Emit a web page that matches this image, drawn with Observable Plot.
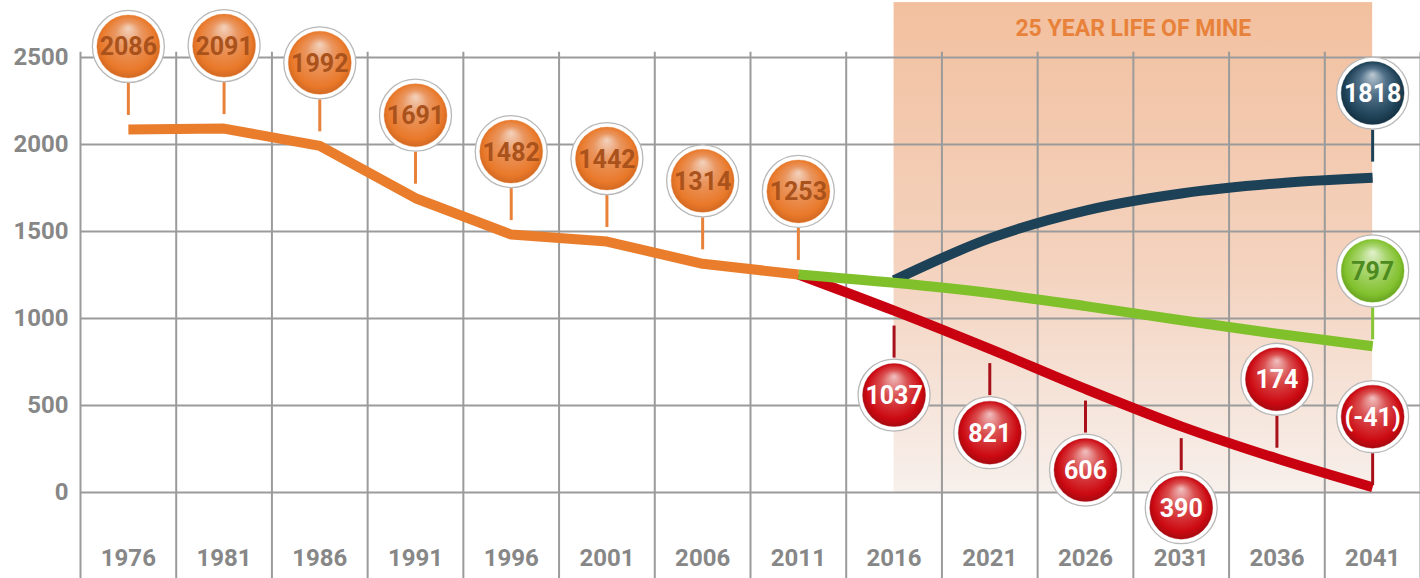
<!DOCTYPE html>
<html>
<head>
<meta charset="utf-8">
<script src="https://cdn.jsdelivr.net/npm/d3@7"></script>
<script src="https://cdn.jsdelivr.net/npm/@observablehq/plot@0.6"></script>
<style>
  html, body { margin: 0; padding: 0; background: #ffffff; }
  #chart { width: 1420px; height: 578px; overflow: hidden; }
</style>
</head>
<body>
<div id="chart"></div>
<script>
// ---------------- data ----------------
const years = [1976, 1981, 1986, 1991, 1996, 2001, 2006, 2011, 2016, 2021, 2026, 2031, 2036, 2041];
const yTicks = [0, 500, 1000, 1500, 2000, 2500];

const histYears = [1976, 1981, 1986, 1991, 1996, 2001, 2006, 2011];
const histValues = [2086, 2091, 1992, 1691, 1482, 1442, 1314, 1253];

const projYears = [2011, 2016, 2021, 2026, 2031, 2036, 2041];
const lowLine = [1253, 1045, 825, 595, 380, 195, 30];
const midLine = [1253, 1205, 1146, 1071, 990, 912, 840];

const highYears = [2016, 2021, 2026, 2031, 2036, 2041];
const highLine = [1220, 1460, 1620, 1718, 1776, 1808];

const lowLabelYears = [2016, 2021, 2026, 2031, 2036, 2041];
const lowLabels = [1037, 821, 606, 390, 174, -41];
const midLabel = {year: 2041, value: 797};
const highLabel = {year: 2041, value: 1818};

const lifeOfMine = [2016, 2041];
const lifeOfMineTitle = "25 YEAR LIFE OF MINE";

// ---------------- layout ----------------
const W = 1420, H = 578;
const xDomain = [1973.5, 2043.5];
const yDomain = [-494, 2827];
const pxPerUnit = H / (yDomain[1] - yDomain[0]);
const gridX = d3.range(xDomain[0], xDomain[1] + 0.1, 5);
const FONT = "Roboto, 'Liberation Sans', sans-serif";

const colors = {orange: "#e97d2c", red: "#c9000f", green: "#80c02a", blue: "#1d4157"};
const stemColors = {orange: "#e8823a", red: "#a8101a", green: "#86c534", blue: "#1d4157"};
const textColors = {orange: "#a9521c", red: "#ffffff", green: "#4d8a1f", blue: "#ffffff"};

const toPts = (xs, vs) => xs.map((x, i) => ({x, v: vs[i]}));
const fmt = v => v < 0 ? `(${v})` : `${v}`;

const labels = [
  ...histYears.map((x, i) => ({x, v: histValues[i], series: "orange", side: 1})),
  ...lowLabelYears.map((x, i) => ({x, v: lowLabels[i], series: "red", side: i < 4 ? -1 : 1})),
  {x: midLabel.year, v: midLabel.value, series: "green", side: 1},
  {x: highLabel.year, v: highLabel.value, series: "blue", side: 1}
].map(d => ({...d, text: fmt(d.v)}));

const BUBBLE_OFFSET = 83;
const stemNear = 14, stemFar = 46;

function bubbleMarks(side) {
  const data = labels.filter(d => d.side === side);
  const dy = -side * BUBBLE_OFFSET;
  return [
    Plot.dot(data, {x: "x", y: "v", dy, r: 36, fill: "#ffffff", stroke: "#b8b8b8", strokeWidth: 1.3}),
    Plot.dot(data, {x: "x", y: "v", dy, r: 31.5, fill: d => `url(#g-${d.series})`, stroke: d => stemColors[d.series], strokeOpacity: 0.35, strokeWidth: 1}),
    Plot.text(data, {x: "x", y: "v", dy: dy + 1, text: "text", fill: d => textColors[d.series], fontSize: 25, fontWeight: "bold"})
  ];
}

const chart = Plot.plot({
  width: W, height: H,
  marginTop: 0, marginRight: 0, marginBottom: 0, marginLeft: 80,
  x: {domain: xDomain, axis: null},
  y: {domain: yDomain, axis: null},
  color: {type: "identity"},
  style: {fontFamily: FONT, background: "#ffffff", overflow: "visible"},
  marks: [
    Plot.rect([lifeOfMine], {x1: d => d[0], x2: d => d[1], y1: () => 0, y2: () => 2815, fill: "url(#shade)"}),
    Plot.ruleY(yTicks, {y: d => d, x1: () => xDomain[0], x2: () => xDomain[1], stroke: "#9b9b9b", strokeWidth: 2}),
    Plot.ruleX(gridX, {x: d => d, y1: () => yDomain[0], y2: () => 2529, stroke: "#9b9b9b", strokeWidth: 2}),
    Plot.text([lifeOfMineTitle], {x: () => (lifeOfMine[0] + lifeOfMine[1]) / 2, y: () => 2666, text: d => d,
      fill: "#e8823a", fontSize: 23, fontWeight: "bold"}),
    Plot.text(yTicks, {x: () => xDomain[0], y: d => d, text: d => `${d}`, textAnchor: "end", dx: -12,
      fill: "#878787", fontSize: 24, fontWeight: "bold"}),
    Plot.text(years, {x: d => d, y: () => -379, text: d => `${d}`, fill: "#878787", fontSize: 24, fontWeight: "bold"}),
    Plot.line(toPts(highYears, highLine), {x: "x", y: "v", stroke: colors.blue, strokeWidth: 10, curve: "catmull-rom", strokeLinecap: "butt"}),
    Plot.line(toPts(projYears, lowLine), {x: "x", y: "v", stroke: colors.red, strokeWidth: 10, curve: "monotone-x", strokeLinecap: "butt"}),
    Plot.line(toPts(projYears, midLine), {x: "x", y: "v", stroke: colors.green, strokeWidth: 10, curve: "monotone-x", strokeLinecap: "butt"}),
    Plot.line(toPts(histYears, histValues), {x: "x", y: "v", stroke: colors.orange, strokeWidth: 10, strokeLinecap: "butt", strokeLinejoin: "miter"}),
    Plot.ruleX(labels, {x: "x", y1: d => d.v + d.side * stemNear / pxPerUnit, y2: d => d.v + d.side * stemFar / pxPerUnit,
      stroke: d => stemColors[d.series], strokeWidth: 3}),
    ...bubbleMarks(1),
    ...bubbleMarks(-1)
  ]
});

// gradients
const svg = d3.select(chart.tagName.toLowerCase() === "svg" ? chart : chart.querySelector("svg"));
const defs = svg.insert("defs", ":first-child");
const shade = defs.append("linearGradient").attr("id", "shade").attr("x1", 0).attr("y1", 0).attr("x2", 0).attr("y2", 1);
[[0, "#f2c09f"], [0.55, "#f4d3bf"], [1, "#f7f0ec"]].forEach(([o, c]) =>
  shade.append("stop").attr("offset", o).attr("stop-color", c));
const sphere = {
  orange: ["#f3d2bd", "#ea9660", "#e9792a", "#c9621f"],
  red: ["#f1c0c0", "#da5050", "#cc0912", "#980a10"],
  green: ["#e2f1cd", "#aad672", "#82c12e", "#5e981c"],
  blue: ["#bccad3", "#52718a", "#1f4257", "#12293a"]
};
for (const [k, s] of Object.entries(sphere)) {
  const g = defs.append("radialGradient").attr("id", `g-${k}`)
    .attr("cx", 0.5).attr("cy", 0.5).attr("r", 0.55).attr("fx", 0.5).attr("fy", 0.2);
  [[0, s[0]], [0.38, s[1]], [0.8, s[2]], [1, s[3]]].forEach(([o, c]) =>
    g.append("stop").attr("offset", o).attr("stop-color", c));
}
document.getElementById("chart").appendChild(chart);
</script>
</body>
</html>
